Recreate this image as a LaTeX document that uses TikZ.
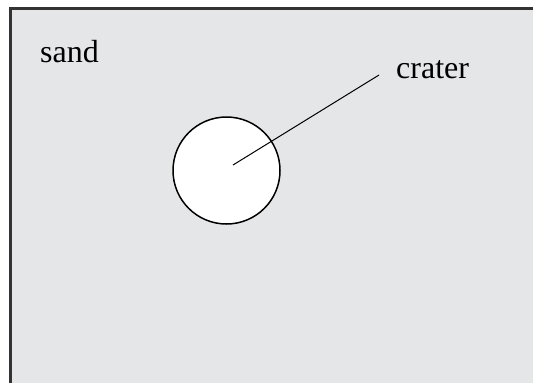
\documentclass[tikz,border=0pt]{standalone}
\usepackage{fontspec}
\setmainfont{Liberation Serif}
\usetikzlibrary{positioning}
\definecolor{sandgray}{HTML}{E5E6E8}
\definecolor{edgegray}{HTML}{333333}

\begin{document}
\begin{tikzpicture}[
        x=1bp, y=-1bp,
        word/.style={font=\fontsize{32bp}{36bp}\selectfont, inner sep=0pt, anchor=base west},
        pit/.style={circle, draw, fill=white, line width=1.5bp, minimum size=107bp, inner sep=0pt},
        pointer/.style={line width=1bp}
    ]
        \useasboundingbox (0,0) rectangle (533,382);

        % Sand area (runs off the right and bottom edges)
        \fill[sandgray] (10.5,8.5) rectangle (545,395);
        \draw[edgegray, line width=2.5bp] (10.5,395) -- (10.5,8.5) -- (545,8.5);
        \node (sand) [word] at (40,62) {sand};

        % Crater
        \node (pit) [pit] at (226.5,170.5) {};
        \node (crater) [word] at (396,78) {crater};
        \coordinate (tip) at (379,75);
        \draw [pointer] ([xshift=6.5bp, yshift=5.5bp]pit.center) -- (tip);
    \end{tikzpicture}
\end{document}
